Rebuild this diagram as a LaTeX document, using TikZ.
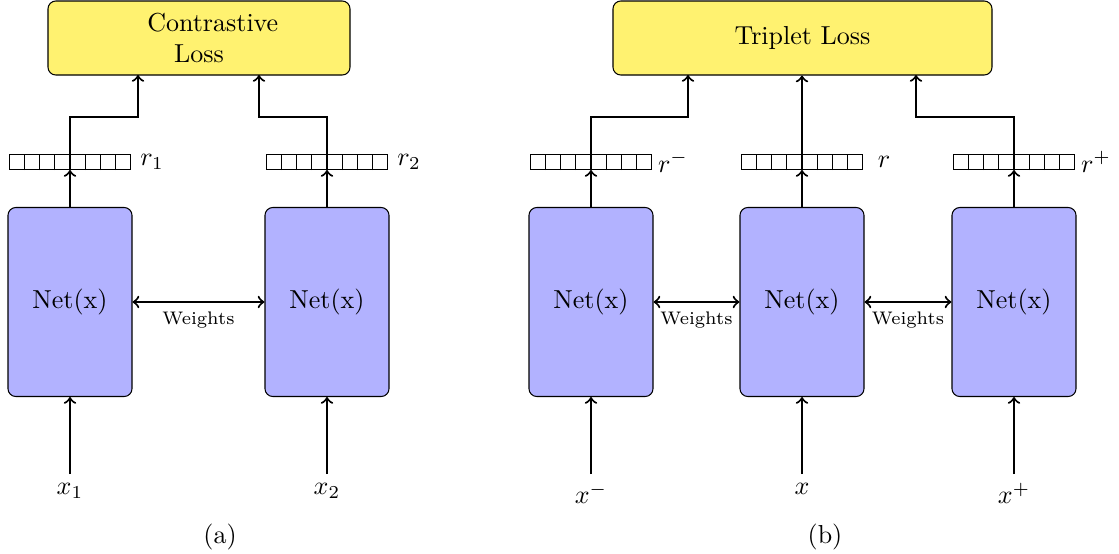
\documentclass[tikz,border=0pt]{standalone}
\usetikzlibrary{calc}
% one drawing unit
\def\pxu{0.3846pt}
\definecolor{lossfill}{RGB}{255,242,112}
\tikzset{
  netbox/.style={draw, rounded corners=3pt, fill=blue!30,
    minimum width=124*\pxu, minimum height=189*\pxu, inner sep=0pt},
  lossbox/.style={draw, rounded corners=3pt, fill=lossfill,
    minimum height=74*\pxu, inner sep=0pt, align=center},
  vecbox/.style={draw, minimum width=121*\pxu, minimum height=15*\pxu, inner sep=0pt},
  link/.style={thick, ->},
  shared/.style={thick, <->},
  wlabel/.style={font=\scriptsize, below},
  inlabel/.style={anchor=north},
}
% split an embedding box into eight cells
\newcommand\cells[1]{%
  \foreach \cl in {1,...,7}{%
    \draw ($(#1.south west)!\cl/8!(#1.south east)$) -- ($(#1.north west)!\cl/8!(#1.north east)$);}}
\begin{document}
\begin{tikzpicture}[x=\pxu, y=-\pxu]
\useasboundingbox (0,0) rectangle (1119,553);

% ---------- (a) siamese network with contrastive loss ----------
\node[lossbox, minimum width=302*\pxu] (lossA) at (199,38) {\hspace*{10.6pt}Contrastive\\Loss};
\node[netbox] (n1) at (70,302) {Net(x)};
\node[netbox] (n2) at (327,302) {Net(x)};
\node[vecbox] (v1) at (70,162) {};
\node[vecbox] (v2) at (327,162) {};
\cells{v1}
\cells{v2}
\node at ([xshift=21*\pxu]v1.east) {$r_1$};
\node at ([xshift=21*\pxu]v2.east) {$r_2$};
\node[inlabel] (x1) at (70,474) {$x_1$};
\node[inlabel] (x2) at (327,474) {$x_2$};
\coordinate (ta1) at (138,75);
\coordinate (ta2) at (259,75);

\draw[link] (x1.north) -- (n1.south);
\draw[link] (x2.north) -- (n2.south);
\draw[link] (n1.north) -- (v1.south);
\draw[link] (n2.north) -- (v2.south);
\draw[link] (v1.south) -- ++(0,-53) -| (ta1);
\draw[link] (v2.south) -- ++(0,-53) -| (ta2);
\draw[shared] (n1.east) -- node[wlabel] {Weights} (n2.west);
\node (capA) at (220,537) {(a)};

% ---------- (b) triplet network with triplet loss ----------
\node[lossbox, minimum width=379*\pxu] (lossB) at (802.5,38) {Triplet Loss};
\node[netbox] (n3) at (591,302) {Net(x)};
\node[netbox] (n4) at (802,302) {Net(x)};
\node[netbox] (n5) at (1014,302) {Net(x)};
\node[vecbox] (v3) at (591,162) {};
\node[vecbox] (v4) at (802,162) {};
\node[vecbox] (v5) at (1014,162) {};
\cells{v3}
\cells{v4}
\cells{v5}
\node at ([xshift=21*\pxu]v3.east) {$r^-$};
\node at ([xshift=21*\pxu]v4.east) {$r$};
\node at ([xshift=21*\pxu]v5.east) {$r^+$};
\node[inlabel] (x3) at (591,474) {$x^-$};
\node[inlabel] (x4) at (802,474) {$x$};
\node[inlabel] (x5) at (1014,474) {$x^+$};
\coordinate (tb1) at (688,75);
\coordinate (tb3) at (916,75);

\draw[link] (x3.north) -- (n3.south);
\draw[link] (x4.north) -- (n4.south);
\draw[link] (x5.north) -- (n5.south);
\draw[link] (n3.north) -- (v3.south);
\draw[link] (n4.north) -- (v4.south);
\draw[link] (n5.north) -- (v5.south);
\draw[link] (v3.south) -- ++(0,-53) -| (tb1);
\draw[link] (v4.south) -- (v4.south |- lossB.south);
\draw[link] (v5.south) -- ++(0,-53) -| (tb3);
\draw[shared] (n3.east) -- node[wlabel] {Weights} (n4.west);
\draw[shared] (n4.east) -- node[wlabel] {Weights} (n5.west);
\node (capB) at (825,537) {(b)};
\end{tikzpicture}
\end{document}
